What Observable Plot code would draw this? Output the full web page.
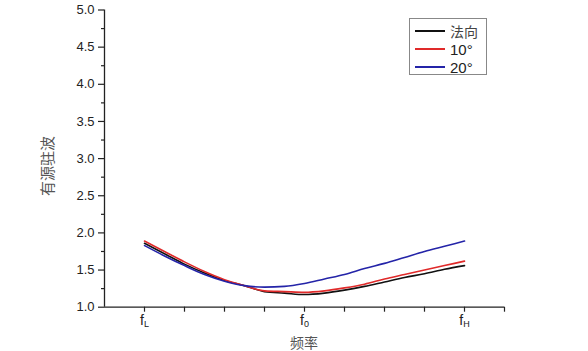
<!DOCTYPE html>
<html>
<head>
<meta charset="utf-8">
<script src="https://cdn.jsdelivr.net/npm/d3@7"></script>
<script src="https://cdn.jsdelivr.net/npm/@observablehq/plot@0.6"></script>
<style>
  html, body { margin: 0; padding: 0; background: #fff; }
  #wrap { position: relative; width: 588px; height: 351px; }
  #legend { position: absolute; left: 409px; top: 18px; width: 78px; height: 57px; border: 1px solid #888; box-sizing: border-box; background: #fff; font-family: "Liberation Sans", Arial, sans-serif; font-size: 15px; color: #222; }
  .row { position: absolute; left: 5px; height: 18px; display: flex; align-items: center; }
  .row .sw { width: 30px; height: 2px; margin-right: 5px; }
  .cjk { font-family: "Noto Sans CJK SC", sans-serif; font-size: 14px; color: #444; }
</style>
</head>
<body>
<div id="wrap"></div>
<script>
// Frequency position index (f_L = 1, f_0 = 5, f_H = 9)
const xs = [1, 1.5, 2, 2.5, 3, 3.5, 4, 4.5, 5, 5.5, 6, 6.5, 7, 7.5, 8, 8.5, 9];
const normal = [1.86, 1.72, 1.58, 1.46, 1.36, 1.29, 1.21, 1.19, 1.17, 1.19, 1.23, 1.28, 1.34, 1.40, 1.45, 1.51, 1.56];
const deg10  = [1.89, 1.75, 1.61, 1.48, 1.37, 1.29, 1.22, 1.21, 1.20, 1.22, 1.26, 1.31, 1.38, 1.44, 1.50, 1.56, 1.62];
const deg20  = [1.83, 1.69, 1.56, 1.44, 1.35, 1.29, 1.27, 1.28, 1.32, 1.38, 1.44, 1.52, 1.59, 1.67, 1.75, 1.82, 1.89];
const seriesNames = ["法向", "10°", "20°"];
const seriesColors = ["#111111", "#e02a2a", "#2424a8"];
const seriesValues = [normal, deg10, deg20];
const xTickPos = [1, 5, 9];
const xTickNames = ["L", "0", "H"];
const yLabel = "有源驻波";
const xLabel = "频率";

const data = [];
seriesValues.forEach((vals, si) => vals.forEach((v, i) => data.push({x: xs[i], y: v, s: seriesNames[si]})));

const chart = Plot.plot({
  width: 588, height: 351,
  marginLeft: 104, marginRight: 84, marginTop: 9.5, marginBottom: 44.3,
  x: {domain: [0, 10]},
  y: {domain: [1, 5]},
  color: {domain: seriesNames, range: seriesColors},
  style: {fontFamily: "'Liberation Sans', Arial, sans-serif", color: "#222", background: "#fff"},
  marks: [
    Plot.axisY({ticks: d3.range(1, 5.001, 0.5), tickSize: 6, tickPadding: 4, tickFormat: d3.format(".1f"), fontSize: 13, label: null, strokeWidth: 1.2}),
    Plot.axisY({ticks: d3.range(1.25, 5, 0.5), tickSize: 3, tickFormat: () => "", label: null, strokeWidth: 1.2}),
    Plot.axisX({ticks: d3.range(1, 10.001, 1), tickSize: 5, tickPadding: 3, fontSize: 14,
      tickFormat: d => { const i = xTickPos.indexOf(d); return i >= 0 ? "f" + xTickNames[i] : ""; },
      label: null, strokeWidth: 1.2}),
    Plot.ruleX([0], {stroke: "#222", strokeWidth: 1.3}),
    Plot.ruleY([1], {stroke: "#222", strokeWidth: 1.3}),
    Plot.line(data, {x: "x", y: "y", stroke: "s", z: "s", strokeWidth: 1.6, curve: "monotone-x"})
  ]
});

// subscript formatting for f_L, f_0, f_H
d3.select(chart).selectAll("g[aria-label='x-axis tick label'] text").each(function() {
  const t = this.textContent;
  if (!t) return;
  const sel = d3.select(this);
  sel.text("");
  sel.append("tspan").text("f");
  sel.append("tspan").attr("font-size", 9).attr("dy", "0.25em").text(t.slice(1));
});

// axis titles
const svg = d3.select(chart);
svg.append("text").attr("x", 304).attr("y", 348).attr("text-anchor", "middle")
  .attr("font-family", "'Noto Sans CJK SC', sans-serif").attr("font-size", 14).attr("fill", "#555").text(xLabel);
svg.append("text").attr("transform", "translate(53,166) rotate(-90)").attr("text-anchor", "middle")
  .attr("font-family", "'Noto Sans CJK SC', sans-serif").attr("font-size", 15).attr("fill", "#555").text(yLabel);

const wrap = document.getElementById("wrap");
wrap.appendChild(chart);

// legend
const lg = document.createElement("div");
lg.id = "legend";
seriesNames.forEach((n, i) => {
  const r = document.createElement("div");
  r.className = "row";
  r.style.top = (3 + i * 18) + "px";
  const sw = document.createElement("div");
  sw.className = "sw";
  sw.style.backgroundColor = seriesColors[i];
  const lab = document.createElement("span");
  lab.textContent = n;
  if (i === 0) lab.className = "cjk";
  r.appendChild(sw); r.appendChild(lab);
  lg.appendChild(r);
});
wrap.appendChild(lg);
</script>
</body>
</html>
